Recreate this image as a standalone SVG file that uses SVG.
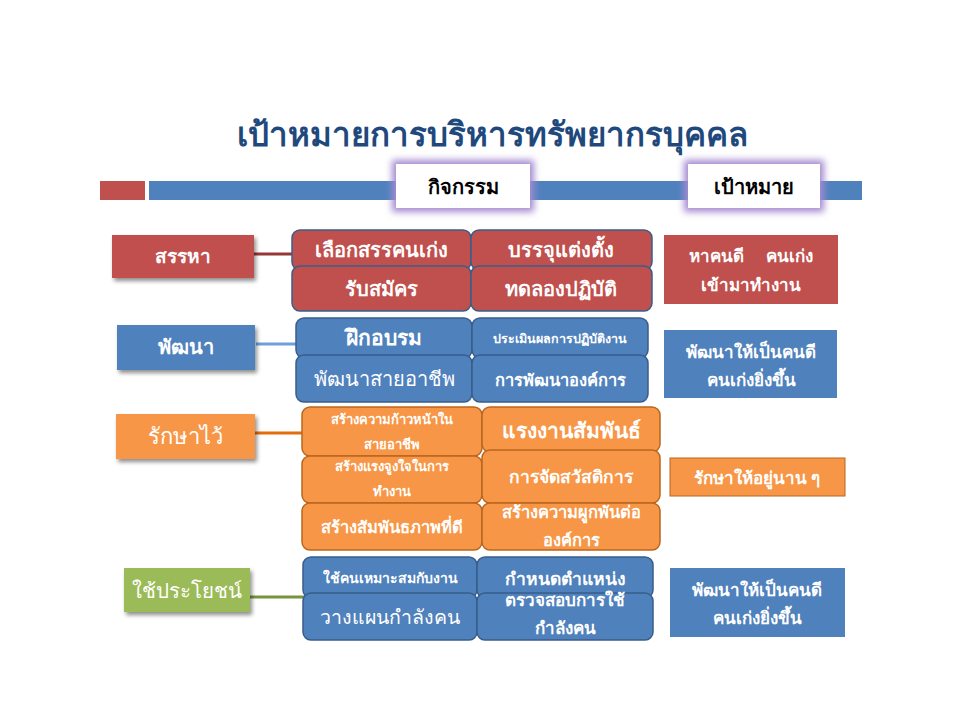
<svg xmlns="http://www.w3.org/2000/svg" width="960" height="720" viewBox="0 0 960 720">
<defs>
<filter id="glow" x="-30%" y="-50%" width="160%" height="200%">
<feMorphology in="SourceAlpha" operator="dilate" radius="4" result="d"/>
<feGaussianBlur in="d" stdDeviation="3.5" result="b"/>
<feFlood flood-color="#A48BD0" flood-opacity="1"/>
<feComposite in2="b" operator="in" result="g"/>
<feMerge><feMergeNode in="g"/><feMergeNode in="SourceGraphic"/></feMerge>
</filter>
<filter id="shadow" x="-20%" y="-20%" width="150%" height="160%">
<feGaussianBlur in="SourceAlpha" stdDeviation="2"/>
<feOffset dx="2" dy="3" result="o"/>
<feComponentTransfer><feFuncA type="linear" slope="0.45"/></feComponentTransfer>
<feMerge><feMergeNode/><feMergeNode in="SourceGraphic"/></feMerge>
</filter>
</defs>
<style>
text{font-family:"Noto Sans","DejaVu Sans",sans-serif;text-anchor:middle;fill:#fff}
.b{font-weight:bold}
.red{fill:#C0504D}
.blue{fill:#4F81BD}
.orange{fill:#F79646}
.green{fill:#9BBB59}
.cell{stroke:#385D8A;stroke-width:1.5}
.ocell{fill:#F79646;stroke:#B9671F;stroke-width:1.5}
.lbl{filter:url(#shadow)}
.conn{fill:none;stroke-width:3}
</style>
<rect width="960" height="720" fill="#fff"/>

<g id="title">
<text x="492" y="146" class="b" style="font-size:33px;fill:#1F497D">เป้าหมายการบริหารทรัพยากรบุคคล</text>
</g>

<g id="header-bar">
<rect x="100" y="181" width="45" height="19" class="red"/>
<rect x="149" y="181" width="713" height="19" class="blue"/>
</g>
<g id="header-activity">
<rect x="396" y="164" width="134" height="44" fill="#fff" filter="url(#glow)"/>
<text x="463" y="194" class="b" style="font-size:20px;fill:#000">กิจกรรม</text>
</g>
<g id="header-goal">
<rect x="688" y="164" width="132" height="44" fill="#fff" filter="url(#glow)"/>
<text x="754" y="194" class="b" style="font-size:20px;fill:#000">เป้าหมาย</text>
</g>

<g id="connectors">
<line x1="254" y1="254" x2="293" y2="254" class="conn" stroke="#953735"/>
<line x1="256" y1="344" x2="297" y2="344" class="conn" stroke="#6FA0DC"/>
<line x1="255" y1="433" x2="303" y2="433" class="conn" stroke="#E46C0A"/>
<line x1="250" y1="597" x2="304" y2="597" class="conn" stroke="#77933C"/>
</g>

<!-- Row 1 -->
<g id="recruit">
<rect x="112" y="235" width="142" height="43" class="red lbl"/>
<text x="183" y="263" class="b" style="font-size:19px">สรรหา</text>
</g>
<g id="select">
<rect x="292" y="230" width="179" height="40" rx="8" class="red cell"/>
<text x="381" y="257" class="b" style="font-size:20px">เลือกสรรคนเก่ง</text>
</g>
<g id="appoint">
<rect x="471" y="230" width="181" height="40" rx="8" class="red cell"/>
<text x="561" y="257" class="b" style="font-size:20px">บรรจุแต่งตั้ง</text>
</g>
<g id="apply">
<rect x="292" y="266" width="179" height="45" rx="8" class="red cell"/>
<text x="381" y="296" class="b" style="font-size:20px">รับสมัคร</text>
</g>
<g id="probation">
<rect x="471" y="266" width="181" height="45" rx="8" class="red cell"/>
<text x="561" y="296" class="b" style="font-size:20px">ทดลองปฏิบัติ</text>
</g>
<g id="goal-recruit">
<rect x="664" y="235" width="174" height="69" class="red"/>
<text x="751" y="262" class="b" style="font-size:17px" xml:space="preserve">หาคนดี     คนเก่ง</text>
<text x="751" y="291" class="b" style="font-size:17px">เข้ามาทำงาน</text>
</g>

<!-- Row 2 -->
<g id="develop">
<rect x="117" y="325" width="138" height="45" class="blue lbl"/>
<text x="186" y="354" class="b" style="font-size:20px">พัฒนา</text>
</g>
<g id="training">
<rect x="296" y="318" width="176" height="40" rx="8" class="blue cell"/>
<text x="384" y="345" class="b" style="font-size:21px">ฝึกอบรม</text>
</g>
<g id="appraisal">
<rect x="472" y="318" width="176" height="40" rx="8" class="blue cell"/>
<text x="560" y="343" class="b" style="font-size:12.5px">ประเมินผลการปฏิบัติงาน</text>
</g>
<g id="career">
<rect x="296" y="355" width="176" height="47" rx="8" class="blue cell"/>
<text x="384" y="386" style="font-size:20px">พัฒนาสายอาชีพ</text>
</g>
<g id="orgdev">
<rect x="472" y="355" width="176" height="47" rx="8" class="blue cell"/>
<text x="560" y="386" class="b" style="font-size:16.5px">การพัฒนาองค์การ</text>
</g>
<g id="goal-develop">
<rect x="664" y="330" width="173" height="68" class="blue"/>
<text x="751" y="358" class="b" style="font-size:17px">พัฒนาให้เป็นคนดี</text>
<text x="751" y="386" class="b" style="font-size:17px">คนเก่งยิ่งขึ้น</text>
</g>

<!-- Row 3 -->
<g id="retain">
<rect x="116" y="414" width="139" height="45" class="orange lbl"/>
<text x="185" y="444" style="font-size:22px">รักษาไว้</text>
</g>
<g id="advance">
<rect x="302" y="407" width="180" height="49" rx="8" class="ocell"/>
<text x="392" y="424" class="b" style="font-size:13px">สร้างความก้าวหน้าใน</text>
<text x="392" y="449" class="b" style="font-size:13px">สายอาชีพ</text>
</g>
<g id="labor">
<rect x="482" y="407" width="178" height="45" rx="8" class="ocell"/>
<text x="571" y="438" class="b" style="font-size:21px">แรงงานสัมพันธ์</text>
</g>
<g id="motivate">
<rect x="302" y="456" width="180" height="47" rx="8" class="ocell"/>
<text x="392" y="471" class="b" style="font-size:13px">สร้างแรงจูงใจในการ</text>
<text x="392" y="496" class="b" style="font-size:13px">ทำงาน</text>
</g>
<g id="welfare">
<rect x="482" y="450" width="178" height="53" rx="8" class="ocell"/>
<text x="571" y="483" class="b" style="font-size:17.5px">การจัดสวัสดิการ</text>
</g>
<g id="relation">
<rect x="302" y="503" width="180" height="47" rx="8" class="ocell"/>
<text x="392" y="533" class="b" style="font-size:16.5px">สร้างสัมพันธภาพที่ดี</text>
</g>
<g id="engage">
<rect x="482" y="503" width="178" height="47" rx="8" class="ocell"/>
<text x="571" y="518" class="b" style="font-size:16.5px">สร้างความผูกพันต่อ</text>
<text x="571" y="546" class="b" style="font-size:16.5px">องค์การ</text>
</g>
<g id="goal-retain">
<rect x="670" y="458" width="175" height="38" class="orange" stroke="#B9671F" stroke-width="1"/>
<text x="757" y="484" class="b" style="font-size:17px">รักษาให้อยู่นาน ๆ</text>
</g>

<!-- Row 4 -->
<g id="utilize">
<rect x="124" y="568" width="126" height="44" class="green lbl"/>
<text x="187" y="598" style="font-size:20.5px">ใช้ประโยชน์</text>
</g>
<g id="fit">
<rect x="303" y="557" width="174" height="41" rx="8" class="blue cell"/>
<text x="390" y="583" class="b" style="font-size:14px">ใช้คนเหมาะสมกับงาน</text>
</g>
<g id="position">
<rect x="477" y="557" width="176" height="41" rx="8" class="blue cell"/>
<text x="565" y="585" class="b" style="font-size:17.5px">กำหนดตำแหน่ง</text>
</g>
<g id="planning">
<rect x="303" y="593" width="174" height="47" rx="8" class="blue cell"/>
<text x="390" y="624" style="font-size:19.5px">วางแผนกำลังคน</text>
</g>
<g id="audit">
<rect x="477" y="593" width="176" height="47" rx="8" class="blue cell"/>
<text x="565" y="606" class="b" style="font-size:17px">ตรวจสอบการใช้</text>
<text x="565" y="634" class="b" style="font-size:17px">กำลังคน</text>
</g>
<g id="goal-utilize">
<rect x="670" y="568" width="175" height="69" class="blue"/>
<text x="757" y="596" class="b" style="font-size:17px">พัฒนาให้เป็นคนดี</text>
<text x="757" y="624" class="b" style="font-size:17px">คนเก่งยิ่งขึ้น</text>
</g>
</svg>
